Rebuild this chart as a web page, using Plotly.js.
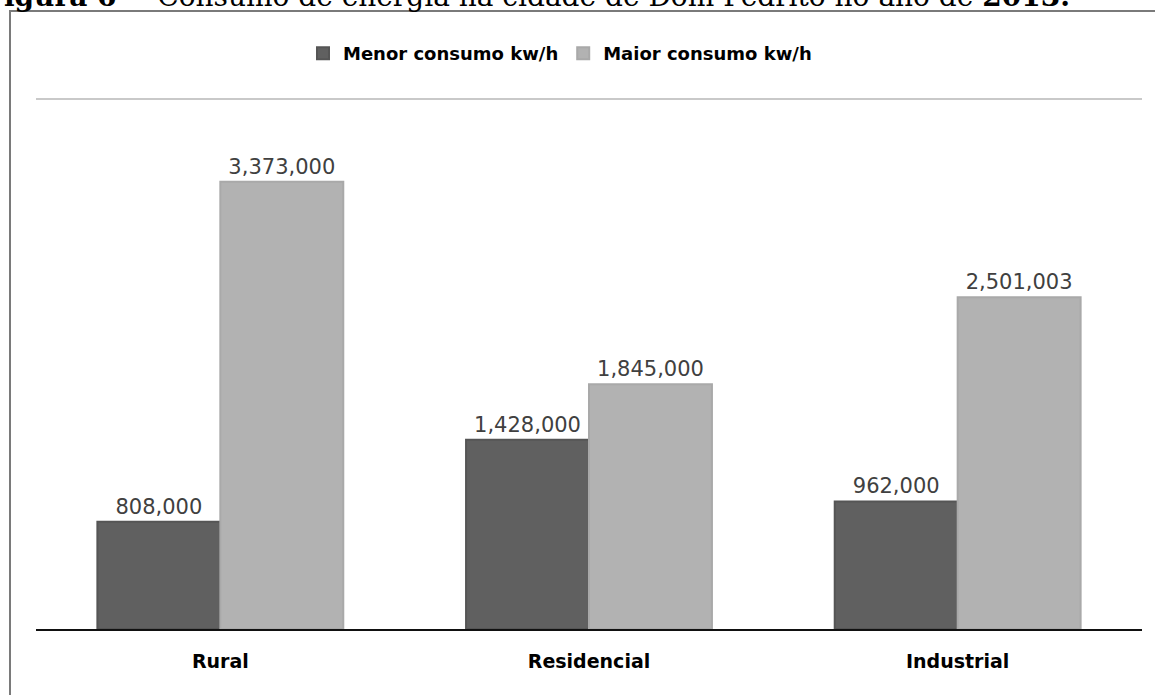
<!DOCTYPE html>
<html>
<head>
<meta charset="utf-8">
<script src="https://cdn.plot.ly/plotly-3.0.1.min.js"></script>
<style>
  html, body { margin: 0; padding: 0; background: #ffffff; }
  #chart { width: 1155px; height: 695px; }
</style>
</head>
<body>
<div id="chart"></div>
<script>
// Energy consumption per sector, Dom Pedrito, 2013 (kW/h)
const categories = ['Rural', 'Residencial', 'Industrial'];
const menorConsumo = [808000, 1428000, 962000];
const maiorConsumo = [3373000, 1845000, 2501003];
const seriesNames = ['Menor consumo kw/h', 'Maior consumo kw/h'];

// page geometry
const W = 1155, H = 695;
const M = { l: 36, r: 13, t: 97, b: 66 };
const plotW = W - M.l - M.r;
const plotH = H - M.t - M.b;
const paperX = px => (px - M.l) / plotW;
const paperY = py => (H - M.b - py) / plotH;

const labelFont = { family: 'DejaVu Sans, Liberation Sans, sans-serif', size: 21, color: '#404040' };

const traces = [
  {
    type: 'bar',
    name: seriesNames[0],
    x: categories,
    y: menorConsumo,
    marker: { color: '#606060', line: { width: 2, color: '#555555' } },
    texttemplate: '%{y:,.0f}',
    textposition: 'outside',
    textfont: labelFont,
    cliponaxis: false,
    hoverinfo: 'x+y+name'
  },
  {
    type: 'bar',
    name: seriesNames[1],
    x: categories,
    y: maiorConsumo,
    marker: { color: '#b2b2b2', line: { width: 2, color: '#a9a9a9' } },
    texttemplate: '%{y:,.0f}',
    textposition: 'outside',
    textfont: labelFont,
    cliponaxis: false,
    hoverinfo: 'x+y+name'
  }
];

const layout = {
  width: W,
  height: H,
  margin: { l: M.l, r: M.r, t: M.t, b: M.b, pad: 0 },
  paper_bgcolor: '#ffffff',
  plot_bgcolor: '#ffffff',
  barmode: 'group',
  bargap: 0.333,
  bargroupgap: 0,
  showlegend: true,
  legend: {
    orientation: 'h',
    x: paperX(303),
    xanchor: 'left',
    y: paperY(53.5),
    yanchor: 'middle',
    font: { family: 'DejaVu Sans, sans-serif', size: 18, color: '#000000', weight: 'bold' },
    bgcolor: 'rgba(0,0,0,0)',
    traceorder: 'normal'
  },
  xaxis: {
    type: 'category',
    showline: true,
    linecolor: '#111111',
    linewidth: 2,
    ticks: '',
    ticklabelstandoff: 14,
    tickfont: { family: 'DejaVu Sans, sans-serif', size: 19, color: '#000000', weight: 'bold' },
    showgrid: false,
    zeroline: false,
    fixedrange: true
  },
  yaxis: {
    range: [0, 4012000],
    tickvals: [4000000],
    showticklabels: false,
    showgrid: true,
    gridcolor: '#c9c9c9',
    gridwidth: 2,
    zeroline: false,
    showline: false,
    ticks: '',
    fixedrange: true
  },
  shapes: [
    {
      // outer frame around the figure
      type: 'rect',
      xref: 'paper', yref: 'paper',
      x0: paperX(10), x1: paperX(1180),
      y0: paperY(720), y1: paperY(11),
      line: { color: '#7a7a7a', width: 2 },
      fillcolor: 'rgba(0,0,0,0)',
      layer: 'below'
    }
  ],
  annotations: [
    {
      xref: 'paper', yref: 'paper',
      x: paperX(-18),
      y: paperY(15),
      xanchor: 'left',
      yanchor: 'bottom',
      showarrow: false,
      text: '<b>Figura 6</b> –  Consumo de energia na cidade de Dom Pedrito no ano de <b>2013.</b>',
      font: { family: 'DejaVu Serif, Liberation Serif, serif', size: 28, color: '#000000' }
    }
  ]
};

Plotly.newPlot('chart', traces, layout, { displayModeBar: false, staticPlot: true });
</script>
</body>
</html>
